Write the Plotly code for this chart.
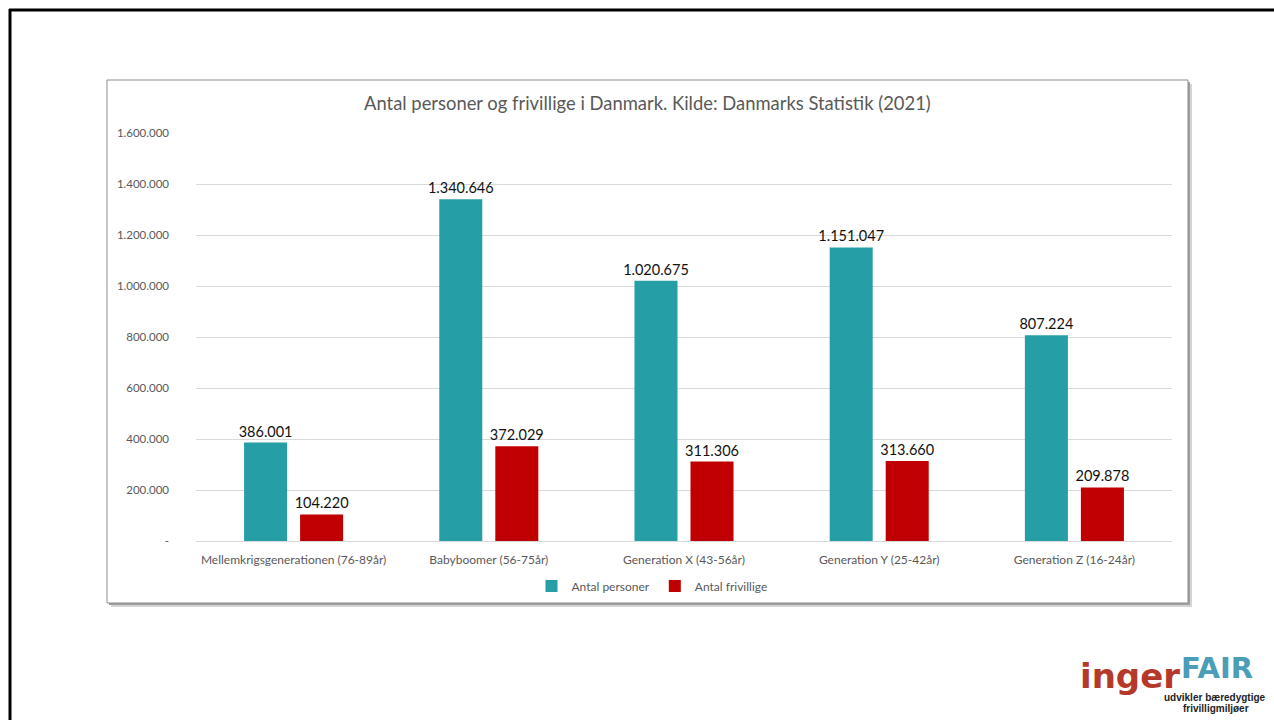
import plotly.graph_objects as go

categories = ["Mellemkrigsgenerationen (76-89år)", "Babyboomer (56-75år)",
              "Generation X (43-56år)", "Generation Y (25-42år)", "Generation Z (16-24år)"]
antal_personer = [386001, 1340646, 1020675, 1151047, 807224]
antal_frivillige = [104220, 372029, 311306, 313660, 209878]
tick_vals = [0, 200000, 400000, 600000, 800000, 1000000, 1200000, 1400000, 1600000]
tick_text = ["-", "200.000", "400.000", "600.000", "800.000", "1.000.000",
             "1.200.000", "1.400.000", "1.600.000"]
title = "Antal personer og frivillige i Danmark. Kilde: Danmarks Statistik (2021)"

W, H = 1274, 720
FONT = "Lato, 'Open Sans', sans-serif"
GRAY = "#595959"

def px(x):
    return x / W

def py(y):
    return 1 - y / H

fig = go.Figure()
fig.add_trace(go.Bar(
    x=categories, y=antal_personer, name="Antal personer",
    marker=dict(color="#269ea6", line=dict(width=0)),
    texttemplate="%{y:,.0f}", textposition="outside", cliponaxis=False,
    constraintext="none",
    textfont=dict(family=FONT, size=14.5, color="#111111"),
))
fig.add_trace(go.Bar(
    x=categories, y=antal_frivillige, name="Antal frivillige",
    marker=dict(color="#c00000", line=dict(width=0)),
    texttemplate="%{y:,.0f}", textposition="outside", cliponaxis=False,
    constraintext="none",
    textfont=dict(family=FONT, size=14.5, color="#111111"),
))

shapes = []
# chart box shadow
shapes.append(dict(type="rect", xref="paper", yref="paper", layer="below",
                   x0=px(111), x1=px(1192), y0=py(607), y1=py(84),
                   fillcolor="#d4d4d4", line=dict(width=0)))
shapes.append(dict(type="rect", xref="paper", yref="paper", layer="below",
                   x0=px(109), x1=px(1190), y0=py(605), y1=py(82),
                   fillcolor="#a0a0a0", line=dict(width=0)))
# chart box
shapes.append(dict(type="rect", xref="paper", yref="paper", layer="below",
                   x0=px(107), x1=px(1188), y0=py(603), y1=py(80),
                   fillcolor="white", line=dict(color="#8c8c8c", width=1)))
# outer black frame
shapes.append(dict(type="line", xref="paper", yref="paper",
                   x0=px(9), x1=px(1280), y0=py(10), y1=py(10),
                   line=dict(color="black", width=3)))
shapes.append(dict(type="line", xref="paper", yref="paper",
                   x0=px(10), x1=px(10), y0=py(9), y1=py(730),
                   line=dict(color="black", width=3)))

annotations = [
    dict(text=title, xref="paper", yref="paper", x=px(647), y=py(103),
         xanchor="center", yanchor="middle", showarrow=False,
         font=dict(family=FONT, size=18.4, color=GRAY)),
    # logo
    dict(text="<b>inger</b>", xref="paper", yref="paper", x=px(1182), y=py(676),
         xanchor="right", yanchor="middle", showarrow=False,
         font=dict(family="'DejaVu Sans', sans-serif", size=34, color="#b5392b")),
    dict(text="<b>FAIR</b>", xref="paper", yref="paper", x=px(1179), y=py(668),
         xanchor="left", yanchor="middle", showarrow=False,
         font=dict(family="'DejaVu Sans', sans-serif", size=29, color="#4b9db8")),
    dict(text="<b>udvikler bæredygtige</b>", xref="paper", yref="paper", x=px(1268), y=py(697),
         xanchor="right", yanchor="middle", showarrow=False,
         font=dict(family="'Liberation Sans', Arial, sans-serif", size=10, color="#222222")),
    dict(text="<b>frivilligmiljøer</b>", xref="paper", yref="paper", x=px(1216), y=py(708),
         xanchor="center", yanchor="middle", showarrow=False,
         font=dict(family="'Liberation Sans', Arial, sans-serif", size=10, color="#222222")),
]

fig.update_layout(
    width=W, height=H,
    margin=dict(l=0, r=0, t=0, b=0),
    paper_bgcolor="white", plot_bgcolor="white",
    separators=",.",
    barmode="group", bargap=0.426, bargroupgap=0.232,
    showlegend=True,
    legend=dict(orientation="h", x=px(652), y=py(586), xanchor="center", yanchor="middle",
                font=dict(family=FONT, size=12, color=GRAY), bgcolor="rgba(0,0,0,0)",
                itemwidth=30, traceorder="normal"),
    shapes=shapes, annotations=annotations,
    xaxis=dict(domain=[px(196), px(1172)], showgrid=False, showline=True,
               linecolor="#d9d9d9", linewidth=1, ticks="",
               ticklabelstandoff=8,
               tickfont=dict(family=FONT, size=12, color=GRAY), automargin=False),
    yaxis=dict(domain=[py(541), py(133)], range=[0, 1600000],
               tickvals=tick_vals, ticktext=tick_text,
               showgrid=True, gridcolor="#d9d9d9", gridwidth=1,
               zeroline=False, showline=False, ticks="",
               ticklabelstandoff=26,
               tickfont=dict(family=FONT, size=11.5, color=GRAY), automargin=False),
)

fig.write_html("out.html", config={"displayModeBar": False},
               post_script="document.body.style.margin='0';document.body.style.overflow='hidden';")
